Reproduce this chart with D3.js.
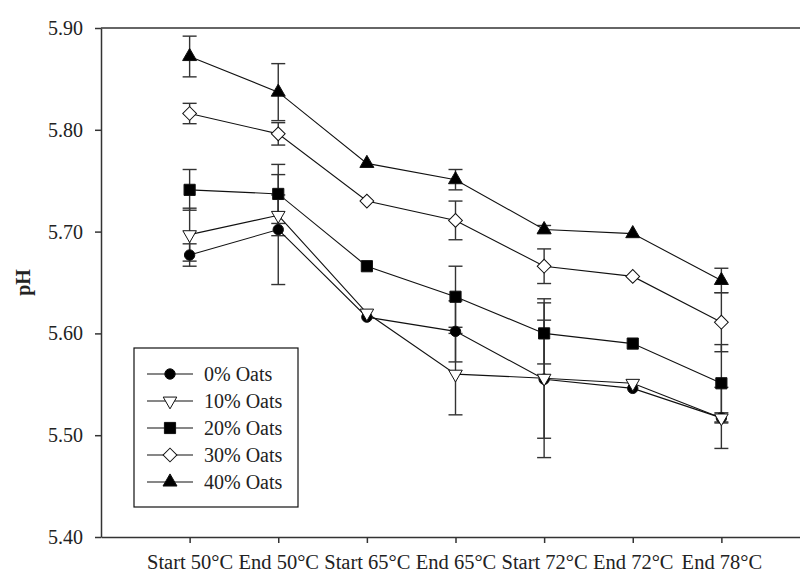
<!DOCTYPE html>
<html><head><meta charset="utf-8">
<script src="https://cdn.jsdelivr.net/npm/d3@7"></script>
<style>body{margin:0;background:#fff}svg{display:block}</style>
</head><body>
<script>
const categories = ["Start 50°C","End 50°C","Start 65°C","End 65°C","Start 72°C","End 72°C","End 78°C"];
const seriesNames = ["0% Oats","10% Oats","20% Oats","30% Oats","40% Oats"];
const oats0  = [5.677,5.702,5.616,5.602,5.555,5.546,5.517];
const oats10 = [5.697,5.716,5.620,5.560,5.556,5.551,5.517];
const oats20 = [5.741,5.737,5.666,5.636,5.600,5.590,5.551];
const oats30 = [5.816,5.796,5.730,5.711,5.666,5.656,5.611];
const oats40 = [5.872,5.837,5.767,5.751,5.702,5.698,5.652];
const err0  = [0.011,0.054,0,0.030,0.058,0,0.005];
const err10 = [0.026,0.020,0,0.040,0.078,0,0.030];
const err20 = [0.020,0.029,0,0.030,0.030,0,0.038];
const err30 = [0.010,0.011,0,0.019,0.017,0,0.029];
const err40 = [0.020,0.028,0,0.010,0.004,0,0.012];
const yTicks = [5.40,5.50,5.60,5.70,5.80,5.90];

const values = [oats0,oats10,oats20,oats30,oats40];
const errors = [err0,err10,err20,err30,err40];
const shapes = [
  {type:d3.symbolCircle,size:85,fill:"#000",rot:0},
  {type:d3.symbolTriangle,size:80,fill:"#fff",rot:180},
  {type:d3.symbolSquare,size:125,fill:"#000",rot:0},
  {type:d3.symbolSquare,size:95,fill:"#fff",rot:45},
  {type:d3.symbolTriangle,size:85,fill:"#000",rot:0}
];

const W=800,H=574;
const svg=d3.select("body").append("svg").attr("width",W).attr("height",H);
const x=d3.scaleLinear().domain([0,8]).range([101,810]);
const y=d3.scaleLinear().domain([5.40,5.90]).range([537,28]);
const font="'Liberation Serif','Times New Roman',serif";

// axes
const gy=svg.append("g").attr("transform","translate(101,0)")
  .call(d3.axisLeft(y).tickValues(yTicks).tickFormat(d3.format(".2f")).tickSize(6).tickSizeOuter(0).tickPadding(12));
const gx=svg.append("g").attr("transform","translate(0,537)")
  .call(d3.axisBottom(x).tickValues(d3.range(1,8)).tickFormat(i=>categories[i-1]).tickSize(6).tickSizeOuter(0).tickPadding(11));
[gy,gx].forEach(g=>{
  g.selectAll("path,line").attr("stroke","#333").attr("stroke-width",1.5);
  g.selectAll("text").attr("fill","#222").style("font-family",font).style("font-size","20px");
});
gx.selectAll("text").style("font-size","20.5px");
svg.append("line").attr("x1",101).attr("x2",810).attr("y1",y(5.90)).attr("y2",y(5.90)).attr("stroke","#333").attr("stroke-width",1.5);

svg.append("text").attr("transform",`translate(30,${(28+537)/2}) rotate(-90)`)
  .attr("text-anchor","middle").style("font-family",font).style("font-size","20px").style("font-weight","bold").attr("fill","#222").text("pH");

// error bars
values.forEach((vals,s)=>{
  const g=svg.append("g").attr("stroke","#333").attr("stroke-width",1.4);
  vals.forEach((v,i)=>{
    const e=errors[s][i]; if(!e) return;
    const cx=x(i+1);
    g.append("line").attr("x1",cx).attr("x2",cx).attr("y1",y(v-e)).attr("y2",y(v+e));
    g.append("line").attr("x1",cx-7).attr("x2",cx+7).attr("y1",y(v-e)).attr("y2",y(v-e));
    g.append("line").attr("x1",cx-7).attr("x2",cx+7).attr("y1",y(v+e)).attr("y2",y(v+e));
  });
});

// lines
const line=d3.line().x((d,i)=>x(i+1)).y(d=>y(d));
values.forEach(vals=>{
  svg.append("path").datum(vals).attr("d",line).attr("fill","none").attr("stroke","#111").attr("stroke-width",1.1);
});

// markers
function marker(g,s,cx,cy){
  const sh=shapes[s];
  g.append("path").attr("d",d3.symbol().type(sh.type).size(sh.size)())
    .attr("transform",`translate(${cx},${cy}) rotate(${sh.rot})`)
    .attr("fill",sh.fill).attr("stroke","#111").attr("stroke-width",1);
}
values.forEach((vals,s)=>{
  const g=svg.append("g");
  vals.forEach((v,i)=>marker(g,s,x(i+1),y(v)));
});

// legend
const lg=svg.append("g");
lg.append("rect").attr("x",134).attr("y",348).attr("width",164).attr("height",159)
  .attr("fill","#fff").attr("stroke","#111").attr("stroke-width",1.2);
seriesNames.forEach((n,s)=>{
  const ly=374+s*27;
  lg.append("line").attr("x1",147).attr("x2",193).attr("y1",ly).attr("y2",ly).attr("stroke","#111").attr("stroke-width",1.1);
  marker(lg,s,170,ly);
  lg.append("text").attr("x",204).attr("y",ly).attr("dy","0.35em").style("font-family",font).style("font-size","20px").attr("fill","#222").text(n);
});
</script>
</body></html>
